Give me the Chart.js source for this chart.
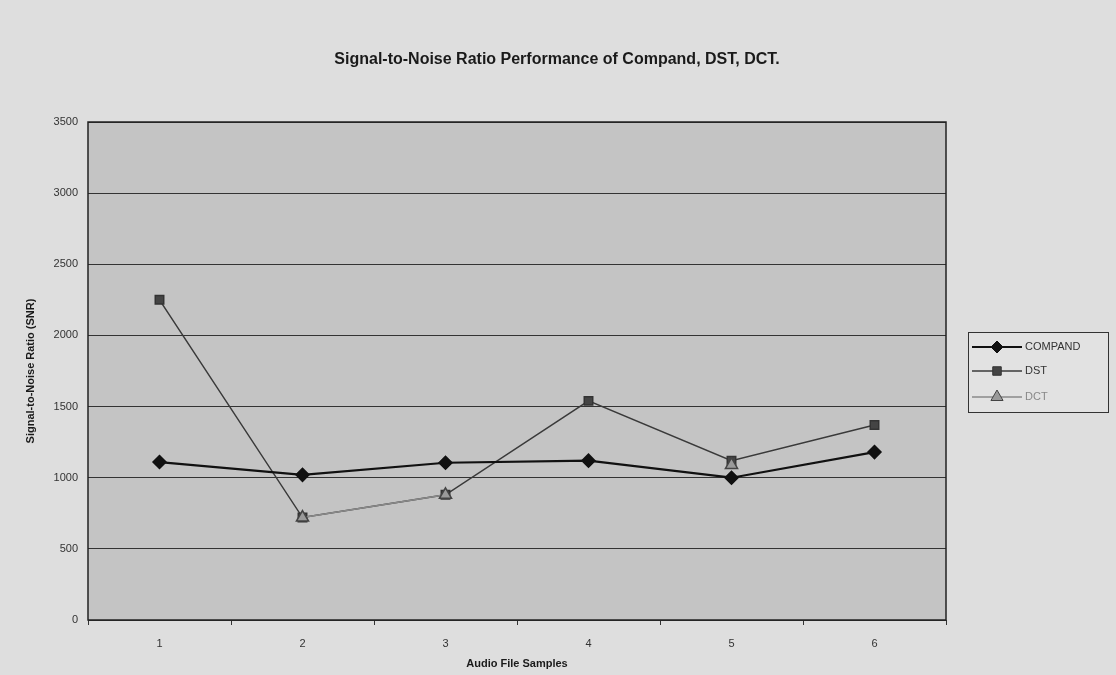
<!DOCTYPE html>
<html><head><meta charset="utf-8">
<script src="https://cdn.jsdelivr.net/npm/chart.js@4/dist/chart.umd.min.js"></script>
<style>html,body{margin:0;padding:0;background:#dedede;}#wrap{width:1116px;height:675px;}</style>
</head><body><div id="wrap"><canvas id="c" width="1116" height="675"></canvas></div>
<script>
const categories = ["1","2","3","4","5","6"];
const compand = [1110, 1020, 1105, 1120, 1000, 1180];
const dst = [2250, 720, 880, 1540, 1120, 1370];
const dct = [null, 720, 880, null, 1090, null];
const seriesNames = ["COMPAND", "DST", "DCT"];
const titleText = "Signal-to-Noise Ratio Performance of Compand, DST, DCT.";
const yTitle = "Signal-to-Noise Ratio (SNR)";
const xTitle = "Audio File Samples";

const bgPlugin = {
  id: 'bg',
  beforeDraw(chart) {
    const {ctx, chartArea: a} = chart;
    ctx.save();
    ctx.fillStyle = '#dedede';
    ctx.fillRect(0, 0, chart.width, chart.height);
    ctx.fillStyle = '#c4c4c4';
    ctx.fillRect(a.left, a.top, a.right - a.left, a.bottom - a.top);
    ctx.restore();
  },
  afterDatasetsDraw(chart) {
    const {ctx, chartArea: a} = chart;
    ctx.save();
    ctx.strokeStyle = '#222';
    ctx.lineWidth = 1.5;
    ctx.strokeRect(a.left, a.top, a.right - a.left, a.bottom - a.top);
    ctx.restore();
  },
  afterDraw(chart) {
    const ctx = chart.ctx;
    ctx.save();
    ctx.fillStyle = '#1a1a1a';
    ctx.font = 'bold 16px "Liberation Sans", Arial, sans-serif';
    ctx.textAlign = 'center';
    ctx.textBaseline = 'middle';
    ctx.fillText(titleText, 557, 60);
    // legend
    const lx = 968, ly = 332, lw = 140, lh = 80;
    ctx.fillStyle = '#e2e2e2';
    ctx.fillRect(lx, ly, lw, lh);
    ctx.strokeStyle = '#333';
    ctx.lineWidth = 1;
    ctx.strokeRect(lx + 0.5, ly + 0.5, lw, lh);
    const rows = [347, 371, 397];
    ctx.font = '11px "Liberation Sans", Arial, sans-serif';
    ctx.textAlign = 'left';
    chart.data.datasets.forEach((ds, i) => {
      const y = rows[i];
      ctx.strokeStyle = ds.borderColor;
      ctx.lineWidth = ds.borderWidth;
      ctx.beginPath(); ctx.moveTo(972, y); ctx.lineTo(1022, y); ctx.stroke();
      const r = Array.isArray(ds.pointRadius) ? Math.max(...ds.pointRadius) : ds.pointRadius;
      ctx.fillStyle = ds.pointBackgroundColor;
      ctx.strokeStyle = ds.pointBorderColor;
      ctx.lineWidth = 1;
      Chart.helpers.drawPoint(ctx, {pointStyle: ds.pointStyle, radius: r, rotation: 0, borderWidth: 1}, 997, y);
      ctx.fillStyle = i === 2 ? '#888' : '#333';
      ctx.fillText(ds.label, 1025, y);
    });
    ctx.restore();
  }
};

new Chart(document.getElementById('c'), {
  type: 'line',
  data: {
    labels: categories,
    datasets: [
      {label: seriesNames[0], data: compand, order: 1, borderColor: '#111', borderWidth: 2.2,
       pointStyle: 'rectRot', pointRadius: 6, pointBackgroundColor: '#111', pointBorderColor: '#111', tension: 0},
      {label: seriesNames[1], data: dst, order: 2, borderColor: '#3a3a3a', borderWidth: 1.5,
       pointStyle: 'rect', pointRadius: 6, pointBackgroundColor: '#444', pointBorderColor: '#333', tension: 0},
      {label: seriesNames[2], data: dct, order: 0, borderColor: '#8a8a8a', borderWidth: 1.5,
       pointStyle: 'triangle', pointRadius: 7, pointBackgroundColor: '#9a9a9a', pointBorderColor: '#444', pointBorderWidth: 1.5, tension: 0, spanGaps: false}
    ]
  },
  options: {
    responsive: false,
    animation: false,
    layout: {padding: {left: 0, right: 170, top: 122, bottom: 0}},
    plugins: {legend: {display: false}, title: {display: false}, tooltip: {enabled: false}},
    scales: {
      x: {
        offset: true,
        grid: {display: true, drawOnChartArea: false, offset: true, tickLength: 5, color: '#333'},
        border: {display: false},
        ticks: {color: '#333', font: {family: '"Liberation Sans", Arial, sans-serif', size: 11}, padding: 12},
        title: {display: true, text: xTitle, color: '#1a1a1a', font: {family: '"Liberation Sans", Arial, sans-serif', size: 11, weight: 'bold'}, padding: {top: 4}},
        afterFit(s) { s.height = 55; }
      },
      y: {
        min: 0, max: 3500,
        ticks: {stepSize: 500, color: '#333', font: {family: '"Liberation Sans", Arial, sans-serif', size: 11}, padding: 10,
                callback: v => String(v)},
        grid: {color: '#333', lineWidth: 1, drawTicks: false},
        border: {display: false},
        title: {display: true, text: yTitle, color: '#1a1a1a', font: {family: '"Liberation Sans", Arial, sans-serif', size: 11, weight: 'bold'}, padding: {top: 24}},
        afterFit(s) { s.width = 88; }
      }
    }
  },
  plugins: [bgPlugin]
});
</script></body></html>
